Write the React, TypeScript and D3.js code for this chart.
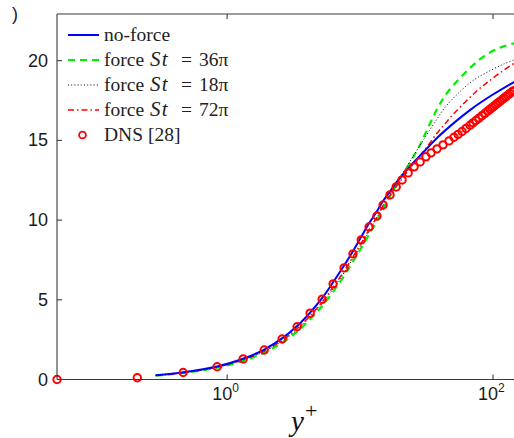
import React from 'react';
import * as d3 from 'd3';

const W = 514;
const H = 438;

// DNS reference data
const dnsYPlus = [0.0525, 0.211, 0.467, 0.841, 1.32, 1.9, 2.59, 3.36, 4.21, 5.18, 6.27, 7.58, 8.85, 10.2, 11.7, 13.4, 14.9, 16.8, 18.7, 20.7, 23.0, 25.5, 28.3, 31.3, 34.2, 37.9, 42.1, 46.7, 50.9, 54.6, 58.5, 62.7, 67.1, 70.7, 74.5, 78.5, 82.7, 87.1, 91.7, 94.9, 98.3, 101.7, 105.3, 109.0, 112.9, 116.9, 121.0, 125.2, 129.7, 134.2, 139.0, 143.9];
const dnsUPlus = [0, 0.11, 0.44, 0.8, 1.29, 1.85, 2.54, 3.31, 4.16, 5.03, 6.0, 7.0, 7.88, 8.76, 9.57, 10.26, 10.95, 11.58, 12.08, 12.52, 12.96, 13.34, 13.65, 13.97, 14.22, 14.47, 14.72, 14.97, 15.2, 15.38, 15.56, 15.75, 15.95, 16.1, 16.25, 16.4, 16.55, 16.7, 16.85, 16.95, 17.05, 17.15, 17.25, 17.35, 17.45, 17.55, 17.65, 17.75, 17.85, 17.95, 18.05, 18.12];

// no-force
const noForceYPlus = [0.29, 0.47, 0.84, 1.32, 1.9, 2.59, 3.36, 4.21, 5.18, 6.27, 7.58, 8.85, 10.2, 11.7, 13.4, 14.9, 16.8, 18.9, 24.2, 30.3, 37.9, 50.9, 68.3, 96.5, 145];
const noForceU = [0.27, 0.46, 0.82, 1.3, 1.88, 2.58, 3.36, 4.2, 5.1, 6.1, 7.15, 8.05, 8.95, 9.8, 10.55, 11.2, 11.8, 12.4, 13.45, 14.3, 15.15, 16.1, 16.95, 17.8, 18.68];

// force St = 36pi
const st36YPlus = [0.29, 0.5, 0.84, 1.32, 1.9, 2.59, 3.36, 4.21, 5.18, 6.27, 7.58, 8.85, 10.2, 11.7, 13.4, 14.9, 16.8, 18.9, 21.4, 24.2, 27.8, 31.9, 37.9, 44.4, 55.5, 68.3, 82.8, 101.7, 120, 145];
const st36U = [0.24, 0.44, 0.74, 1.17, 1.68, 2.3, 3.0, 3.78, 4.6, 5.5, 6.5, 7.4, 8.25, 9.1, 9.95, 10.7, 11.5, 12.25, 12.98, 13.72, 14.6, 15.66, 16.95, 17.9, 18.85, 19.6, 20.2, 20.65, 20.9, 21.1];

// force St = 18pi
const st18YPlus = [0.29, 0.5, 0.84, 1.32, 1.9, 2.59, 3.36, 4.21, 5.18, 6.27, 7.58, 8.85, 10.2, 11.7, 13.4, 14.9, 16.8, 18.7, 21.7, 25.5, 30.3, 36.3, 42.9, 53.9, 72, 96.5, 121, 145];
const st18U = [0.25, 0.45, 0.77, 1.22, 1.76, 2.4, 3.12, 3.92, 4.76, 5.7, 6.7, 7.6, 8.45, 9.3, 10.15, 10.9, 11.65, 12.3, 13.15, 14.1, 15.1, 16.1, 17.0, 17.9, 18.8, 19.4, 19.8, 20.05];

// force St = 72pi
const st72YPlus = [0.29, 0.5, 0.84, 1.32, 1.9, 2.59, 3.36, 4.21, 5.18, 6.27, 7.58, 8.85, 10.2, 11.7, 13.4, 14.9, 16.8, 18.7, 20.7, 23.0, 25.5, 28.3, 31.9, 37.9, 42.9, 49.1, 60.5, 75.5, 90, 114.6, 145];
const st72U = [0.25, 0.46, 0.78, 1.24, 1.8, 2.45, 3.2, 4.0, 4.85, 5.8, 6.8, 7.7, 8.55, 9.4, 10.2, 10.9, 11.55, 12.1, 12.6, 13.1, 13.6, 14.05, 14.6, 15.45, 15.98, 16.55, 17.33, 18.1, 18.62, 19.28, 19.85];

const yTicks = [0, 5, 10, 15, 20];
const xTicks = [1, 100];
const xTickBase = ['10', '10'];
const xTickExp = ['0', '2'];

const legendLabels = ['no-force', 'force', 'force', 'force', 'DNS [28]'];
const legendSt = ['', '36π', '18π', '72π', ''];

const seriesStyles = [
  { color: '#0000ff', width: 2, dash: '' },
  { color: '#00ee00', width: 2.2, dash: '7,5' },
  { color: '#000000', width: 1, dash: '1,2.2' },
  { color: '#ff0000', width: 1.5, dash: '6,3,1.5,3' },
];

export default function App() {
  const x = d3.scaleLog().domain([0.0525, 158]).range([57, 519.4]);
  const y = d3.scaleLinear().domain([0, 22.93]).range([379.5, 14]);

  const line = d3
    .line<[number, number]>()
    .x((d) => x(d[0]))
    .y((d) => y(d[1]))
    .curve(d3.curveCatmullRom.alpha(0.5));

  const series: [number[], number[]][] = [
    [noForceYPlus, noForceU],
    [st36YPlus, st36U],
    [st18YPlus, st18U],
    [st72YPlus, st72U],
  ];
  const drawOrder = [1, 2, 3, 0];

  const axisColor = '#3a3a3a';
  const left = x.range()[0];
  const bottom = y.range()[0];
  const top = y.range()[1];
  const right = x.range()[1];

  const legX0 = 68;
  const legX1 = 99;
  const legRow0 = 35;
  const legStep = 25;
  const serif = 'Liberation Serif, Times New Roman, serif';
  const sans = 'Liberation Sans, Arial, sans-serif';

  return (
    <svg
      width={W}
      height={H}
      style={{ position: 'absolute', left: 0, top: 0, background: '#fff' }}
      xmlns="http://www.w3.org/2000/svg"
    >
      <defs>
        <clipPath id="plotclip">
          <rect x={left} y={top} width={right - left} height={bottom - top} />
        </clipPath>
      </defs>
      <rect x={0} y={0} width={W} height={H} fill="#fff" />

      <text x={12} y={20} fontFamily={sans} fontSize={18} fill="#222">)</text>

      {/* curves */}
      <g clipPath="url(#plotclip)">
        {drawOrder.map((i) => {
          const [xs, us] = series[i];
          const pts = xs.map((v, k) => [v, us[k]] as [number, number]);
          const st = seriesStyles[i];
          return (
            <path
              key={i}
              d={line(pts) || ''}
              fill="none"
              stroke={st.color}
              strokeWidth={st.width}
              strokeDasharray={st.dash || undefined}
            />
          );
        })}
      </g>
      {/* DNS markers */}
      <g>
        {dnsYPlus.map((v, k) => (
          <circle
            key={k}
            cx={x(v)}
            cy={y(dnsUPlus[k])}
            r={3.7}
            fill="none"
            stroke="#ff0000"
            strokeWidth={2}
          />
        ))}
      </g>

      {/* axes */}
      <g stroke={axisColor} strokeWidth={1.1} fill="none">
        <line x1={left} y1={top} x2={left} y2={bottom} />
        <line x1={left} y1={bottom} x2={W + 10} y2={bottom} />
        <line x1={left} y1={top} x2={W + 10} y2={top} />
        {yTicks.map((t) => (
          <line key={'yt' + t} x1={left} x2={left + 5} y1={y(t)} y2={y(t)} />
        ))}
        {xTicks.map((t) => (
          <g key={'xt' + t}>
            <line x1={x(t)} x2={x(t)} y1={bottom} y2={bottom - 5} />
            <line x1={x(t)} x2={x(t)} y1={top} y2={top + 5} />
          </g>
        ))}
      </g>

      {yTicks.map((t) => (
        <text
          key={'yl' + t}
          x={left - 9}
          y={y(t)}
          textAnchor="end"
          dominantBaseline="central"
          fontFamily={sans}
          fontSize={18}
          fill="#1a1a1a"
        >
          {t}
        </text>
      ))}
      {xTicks.map((t, i) => (
        <text
          key={'xl' + t}
          x={x(t) - 15}
          y={bottom + 20}
          fontFamily={sans}
          fontSize={18}
          fill="#1a1a1a"
        >
          {xTickBase[i]}
          <tspan fontSize={12} dy={-8}>{xTickExp[i]}</tspan>
        </text>
      ))}

      <text x={291} y={431} fontFamily={serif} fontSize={29} fontStyle="italic" fill="#111">
        y
        <tspan fontStyle="normal" fontSize={22} dy={-13} dx={1}>+</tspan>
      </text>

      {/* legend */}
      {legendLabels.map((lab, i) => {
        const ry = legRow0 + i * legStep;
        return (
          <g key={'lg' + i}>
            {i < 4 ? (
              <line
                x1={legX0}
                x2={legX1}
                y1={ry}
                y2={ry}
                stroke={seriesStyles[i].color}
                strokeWidth={seriesStyles[i].width}
                strokeDasharray={seriesStyles[i].dash || undefined}
              />
            ) : (
              <circle cx={(legX0 + legX1) / 2 - 1} cy={ry} r={3.4} fill="none" stroke="#ff0000" strokeWidth={1.8} />
            )}
            <text y={ry + 6} fontFamily={serif} fontSize={19.5} fill="#222">
              <tspan x={104}>{lab}</tspan>
              {legendSt[i] ? (
                <>
                  <tspan x={150} fontStyle="italic" fontSize={21} letterSpacing={1.2}>St</tspan>
                  <tspan x={181}>=</tspan>
                  <tspan x={199}>{legendSt[i]}</tspan>
                </>
              ) : null}
            </text>
          </g>
        );
      })}
    </svg>
  );
}
